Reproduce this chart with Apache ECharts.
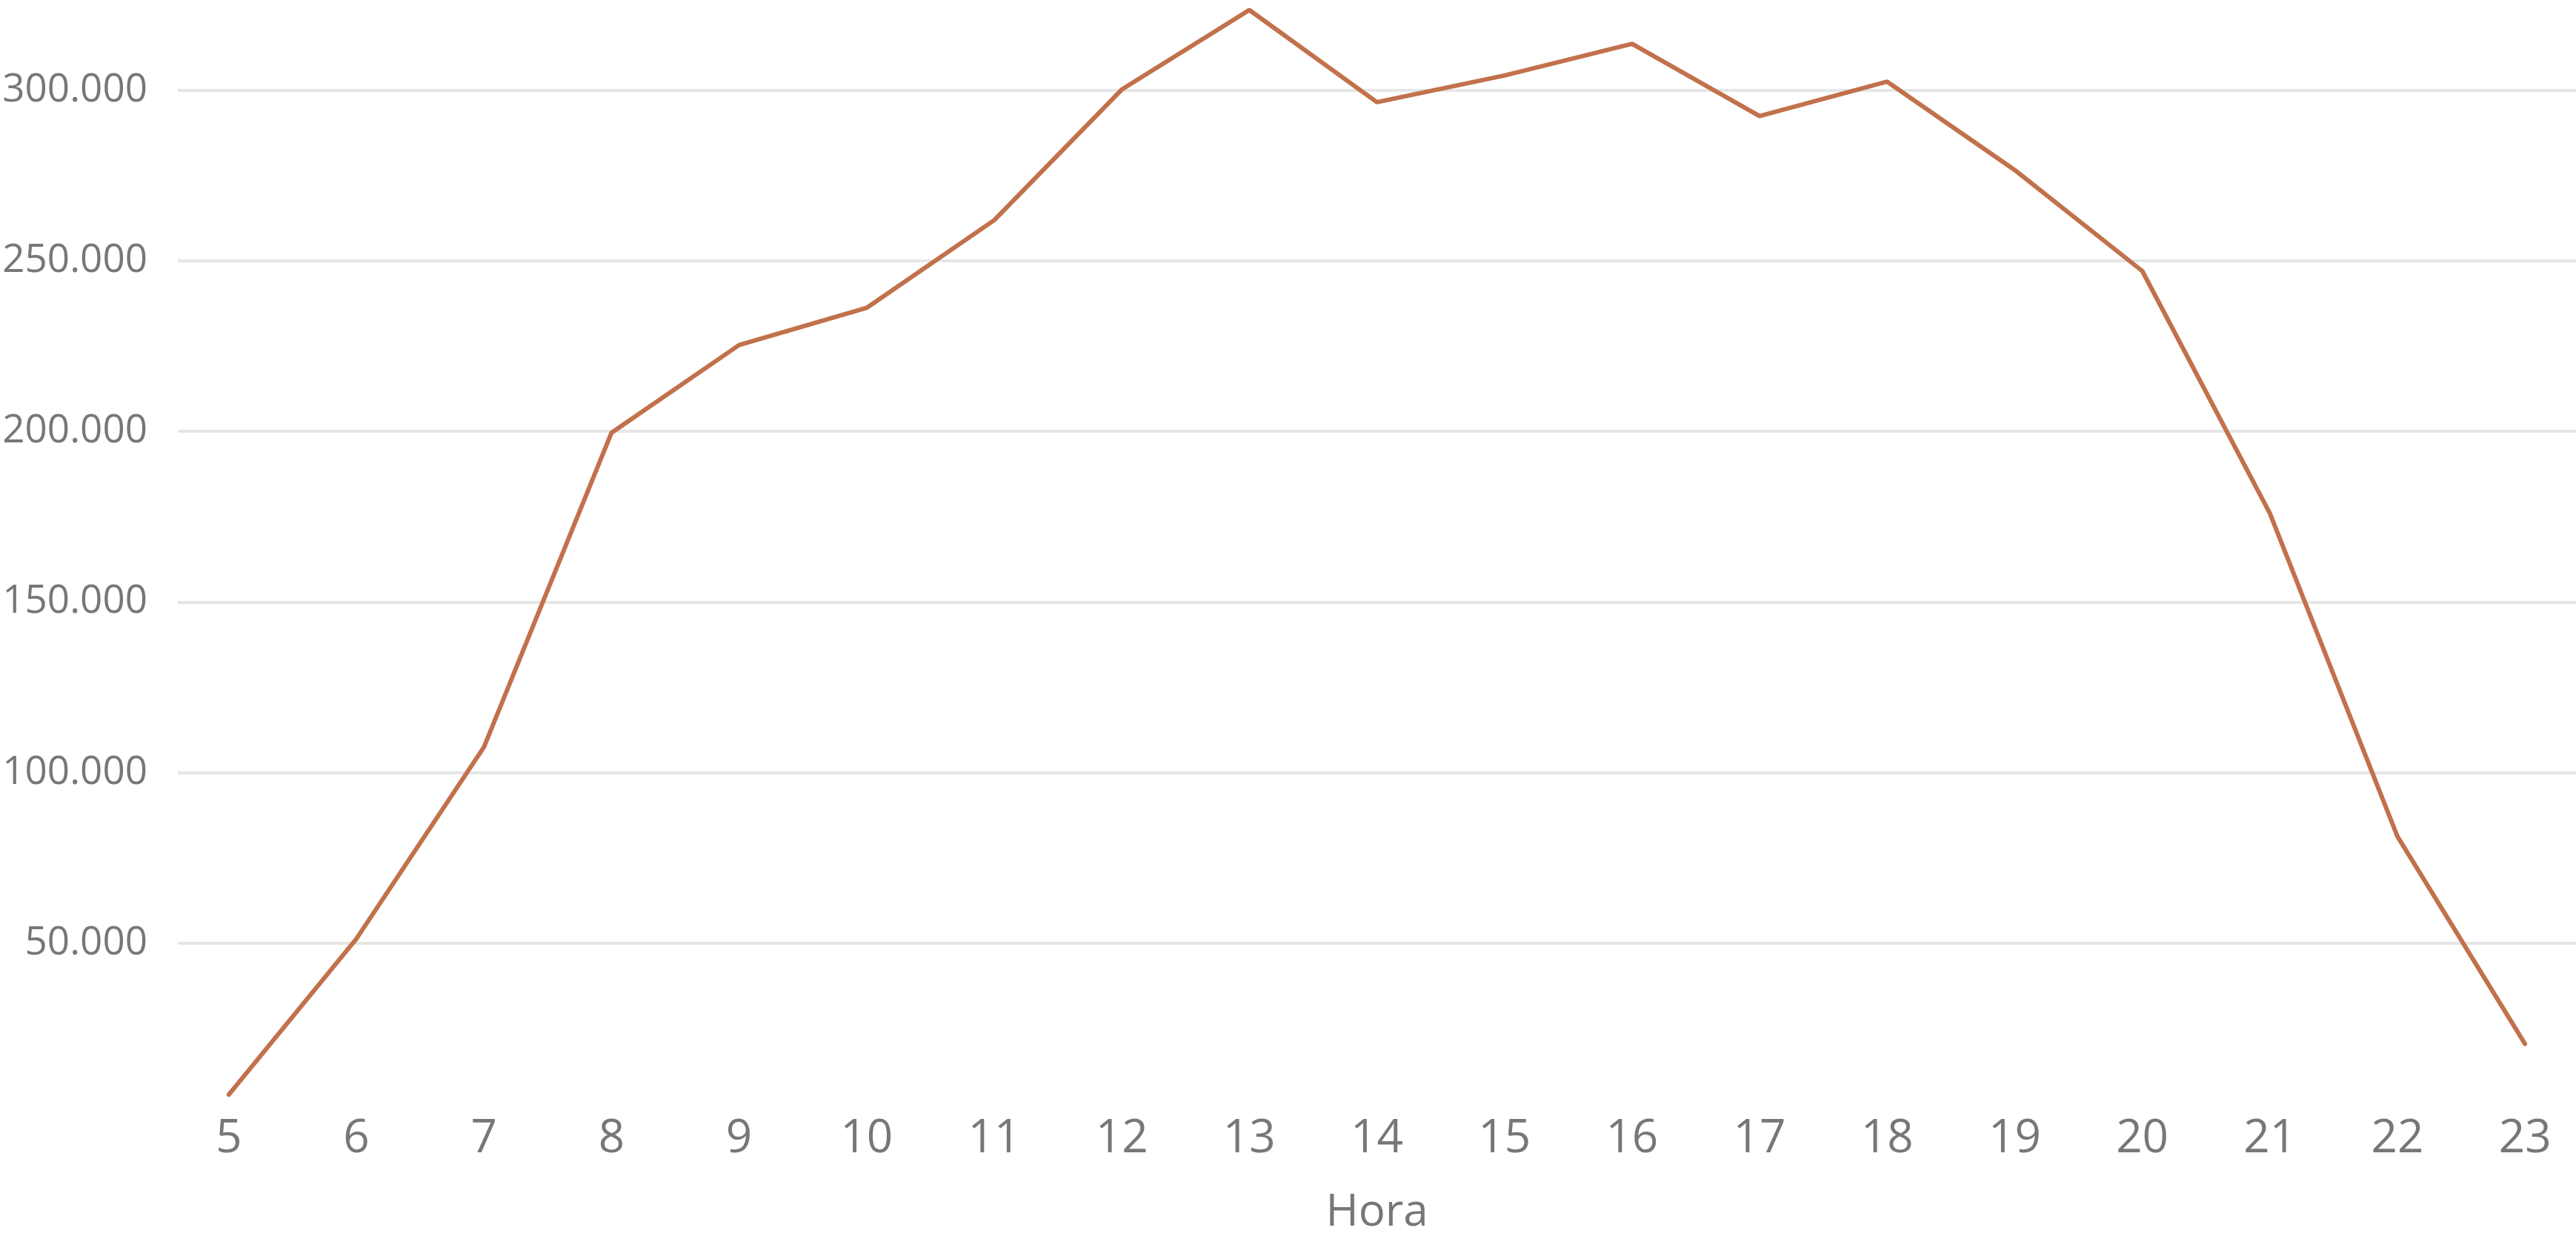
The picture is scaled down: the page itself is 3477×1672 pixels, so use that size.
<!DOCTYPE html>
<html>
<head>
<meta charset="utf-8">
<script src="https://cdn.jsdelivr.net/npm/echarts@6/dist/echarts.min.js"></script>
<style>
  html, body { margin: 0; padding: 0; background: #fff; }
  #main { width: 3477px; height: 1672px; }
</style>
</head>
<body>
<div id="main"></div>
<script>
// hours on the x axis
const horas = [5, 6, 7, 8, 9, 10, 11, 12, 13, 14, 15, 16, 17, 18, 19, 20, 21, 22, 23];
// values
const valores = [5600, 51300, 107500, 199600, 225300, 236200, 261900, 300200, 323500, 296500,
  304300, 313600, 292400, 302500, 276600, 247000, 176000, 81300, 20500];
const yTicks = [50000, 100000, 150000, 200000, 250000, 300000];

const fontFam = '"Segoe UI", "Open Sans", "Noto Sans", sans-serif';

function fmt(v) {
  return String(v).replace(/\B(?=(\d{3})+(?!\d))/g, '.');
}

const myChart = echarts.init(document.getElementById('main'));
myChart.setOption({
  animation: false,
  grid: { left: 240, right: 0, top: 2, bottom: 163 },
  xAxis: {
    type: 'value',
    min: 4.6,
    max: 23.4,
    name: 'Hora',
    nameLocation: 'middle',
    nameGap: 104,
    nameTextStyle: { color: '#777777', fontSize: 60, fontFamily: fontFam },
    axisLine: { show: false },
    axisTick: { show: false },
    splitLine: { show: false },
    axisLabel: {
      customValues: horas,
      color: '#777777',
      fontSize: 62,
      fontFamily: fontFam,
      margin: 3
    }
  },
  yAxis: {
    type: 'value',
    min: 0,
    max: 326000,
    interval: 50000,
    axisLine: { show: false },
    axisTick: { show: false },
    splitLine: {
      show: true,
      showMinLine: false,
      showMaxLine: false,
      lineStyle: { color: '#e6e6e6', width: 4 }
    },
    axisLabel: {
      showMinLabel: false,
      showMaxLabel: false,
      color: '#777777',
      fontSize: 53,
      fontFamily: fontFam,
      margin: 41,
      formatter: function (v) { return yTicks.indexOf(v) >= 0 ? fmt(v) : ''; }
    }
  },
  series: [
    {
      name: 'Valor',
      type: 'line',
      data: horas.map((h, i) => [h, valores[i]]),
      showSymbol: false,
      lineStyle: { color: '#c1714b', width: 6, cap: 'round' }
    }
  ]
});
</script>
</body>
</html>
